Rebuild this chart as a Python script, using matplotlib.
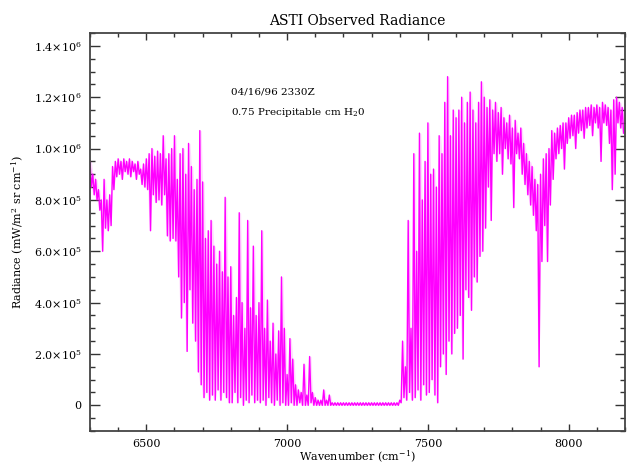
import matplotlib
matplotlib.use("Agg")
import matplotlib.pyplot as plt
import numpy as np
from matplotlib.ticker import MultipleLocator, FixedLocator, FixedFormatter

# spectrum: per 10 cm-1 bin, local peak and local dip (units of 1e5)
bin_start = 6300
bin_width = 10
rad_hi = [
    9.5, 9.0, 8.8, 8.4, 8.0, 8.8, 8.0, 8.2, 9.3, 9.5,          # 6300
    9.6, 9.5, 9.6, 9.5, 9.6, 9.5, 9.4, 9.5, 9.2, 9.4,          # 6400
    9.6, 9.8, 10.0, 9.7, 9.9, 9.8, 10.5, 9.6, 9.8, 10.0,       # 6500
    10.5, 8.8, 9.8, 10.0, 9.0, 10.2, 9.3, 8.4, 8.8, 10.7,      # 6600
    8.7, 6.5, 6.8, 7.2, 6.2, 5.5, 6.0, 5.2, 8.1, 5.0,          # 6700
    5.4, 3.5, 4.2, 7.5, 4.0, 3.0, 7.2, 3.8, 6.2, 3.5,          # 6800
    4.0, 6.8, 3.0, 4.1, 2.5, 3.2, 2.0, 2.9, 5.0, 3.0,          # 6900
    1.2, 2.6, 1.8, 0.8, 0.6, 0.5, 1.6, 0.4, 1.9, 0.5,          # 7000
    0.3, 0.2, 0.2, 0.6, 0.2, 0.4, 0.1, 0.1, 0.1, 0.1,          # 7100
    0.1, 0.1, 0.1, 0.1, 0.1, 0.1, 0.1, 0.1, 0.1, 0.1,          # 7200
    0.1, 0.1, 0.1, 0.1, 0.1, 0.1, 0.1, 0.1, 0.1, 0.1,          # 7300
    0.2, 2.5, 1.5, 7.2, 3.0, 9.8, 6.0, 10.6, 8.0, 9.5,         # 7400
    11.0, 9.0, 9.2, 8.5, 10.5, 9.8, 11.8, 12.8, 10.5, 11.5,    # 7500
    11.2, 11.5, 12.0, 11.0, 11.8, 12.2, 11.5, 11.0, 11.8, 12.6,  # 7600
    12.0, 11.6, 11.9, 11.5, 11.8, 11.4, 11.6, 11.2, 11.0, 11.3,  # 7700
    10.8, 11.1, 10.6, 10.8, 10.2, 9.8, 9.5, 9.3, 8.8, 8.6,     # 7800
    9.0, 9.6, 9.8, 10.0, 10.7, 10.6, 10.8, 10.9, 11.0, 11.0,   # 7900
    11.2, 11.3, 11.3, 11.4, 11.5, 11.5, 11.6, 11.6, 11.7, 11.6,  # 8000
    11.7, 11.6, 11.8, 11.7, 11.6, 11.5, 11.9, 12.0, 11.8, 11.6,  # 8100
]
rad_lo = [
    8.5, 8.2, 8.0, 7.6, 6.0, 6.9, 6.8, 7.0, 8.4, 8.9,
    9.0, 8.8, 9.1, 9.0, 8.9, 9.1, 8.8, 9.0, 8.6, 8.5,
    8.4, 6.8, 8.2, 7.9, 8.0, 7.8, 8.2, 6.6, 6.4, 6.5,
    6.4, 5.0, 3.4, 4.0, 2.1, 4.5, 3.2, 2.5, 1.3, 0.8,
    0.3, 0.5, 0.2, 0.4, 0.2, 0.6, 0.2, 0.5, 0.3, 0.1,
    0.1, 0.5, 0.1, 0.3, 0.0, 0.2, 0.1, 0.4, 0.1, 0.2,
    0.1, 0.2, 0.0, 0.3, 0.1, 0.0, 0.2, 0.0, 0.1, 0.0,
    0.0, 0.1, 0.0, 0.0, 0.1, 0.0, 0.0, 0.0, 0.1, 0.0,
    0.0, 0.0, 0.0, 0.0, 0.0, 0.0, 0.0, 0.0, 0.0, 0.0,
    0.0, 0.0, 0.0, 0.0, 0.0, 0.0, 0.0, 0.0, 0.0, 0.0,
    0.0, 0.0, 0.0, 0.0, 0.0, 0.0, 0.0, 0.0, 0.0, 0.0,
    0.1, 0.3, 0.2, 0.5, 0.2, 0.3, 0.6, 0.2, 0.8, 0.4,
    0.5, 1.0, 0.4, 0.1, 1.5, 2.0, 1.2, 2.5, 2.0, 2.8,
    3.0, 3.5, 1.8, 4.5, 4.2, 3.7, 5.0, 4.8, 5.8, 6.0,
    6.9, 8.5, 7.2, 9.8, 9.5, 9.8, 9.0, 10.0, 9.6, 9.4,
    7.7, 9.8, 9.6, 9.0, 8.6, 8.2, 7.8, 7.4, 6.8, 1.5,
    5.6, 7.0, 5.6, 7.8, 8.8, 9.6, 9.8, 10.0, 9.2, 10.2,
    10.4, 10.5, 10.0, 10.6, 10.7, 10.4, 10.8, 10.9, 10.5, 11.0,
    10.8, 9.5, 11.0, 10.9, 10.2, 8.4, 9.0, 11.0, 10.8, 10.6,
]

y_ticks = [0, 2e5, 4e5, 6e5, 8e5, 1.0e6, 1.2e6, 1.4e6]
y_tick_labels = ["0", r"2.0$\times$10$^5$", r"4.0$\times$10$^5$", r"6.0$\times$10$^5$",
                 r"8.0$\times$10$^5$", r"1.0$\times$10$^6$", r"1.2$\times$10$^6$",
                 r"1.4$\times$10$^6$"]

# interleave peak/dip so the line zigzags like the dense spectrum
n = len(rad_hi)
starts = bin_start + bin_width * np.arange(n)
hi = np.array(rad_hi) * 1e5
lo = np.array(rad_lo) * 1e5
wn = np.empty(2 * n)
rad = np.empty(2 * n)
wn[0::2] = starts
wn[1::2] = starts + bin_width / 2
rad[0::2] = hi
rad[1::2] = lo

plt.rcParams['font.family'] = ['DejaVu Serif']
plt.rcParams['mathtext.fontset'] = 'dejavuserif'

fig = plt.figure(figsize=(6.27, 4.65), dpi=100)
ax = fig.add_axes([90 / 627, 34 / 465, 535 / 627, 398 / 465])

# light pink haze between peaks and dips, then the spectrum itself
ax.fill_between(wn, np.repeat(lo, 2), np.repeat(hi, 2), color='#ff99ff', alpha=0.35, lw=0)
ax.plot(wn, rad, color='#ff00ff', lw=1.0)

ax.set_xlim(6300, 8200)
ax.set_ylim(-1e5, 1.45e6)

ax.xaxis.set_major_locator(MultipleLocator(500))
ax.xaxis.set_minor_locator(MultipleLocator(100))
ax.yaxis.set_major_locator(FixedLocator(y_ticks))
ax.yaxis.set_major_formatter(FixedFormatter(y_tick_labels))
ax.yaxis.set_minor_locator(MultipleLocator(5e4))

ax.tick_params(which='both', direction='in', top=True, right=True, colors='#333333',
               labelcolor='black', labelsize=8)
ax.tick_params(axis='x', which='major', length=5, width=1, pad=6)
ax.tick_params(axis='x', which='minor', length=3, width=1)
ax.tick_params(axis='y', which='major', length=7, width=1, pad=6)
ax.tick_params(axis='y', which='minor', length=3.5, width=1)
for s in ax.spines.values():
    s.set_linewidth(1.3)
    s.set_color('#444444')

ax.set_title("ASTI Observed Radiance", fontsize=10, pad=6)
ax.set_xlabel(r"Wavenumber (cm$^{-1}$)", fontsize=8, labelpad=0)
ax.set_ylabel(r"Radiance (mW/m$^2$ sr cm$^{-1}$)", fontsize=8, labelpad=6)

ax.text(6800, 1.22e6, "04/16/96 2330Z", fontsize=7.5, va='center')
ax.text(6800, 1.14e6, r"0.75 Precipitable cm H$_2$0", fontsize=7.5, va='center')

fig.savefig("out.png", dpi=100)
